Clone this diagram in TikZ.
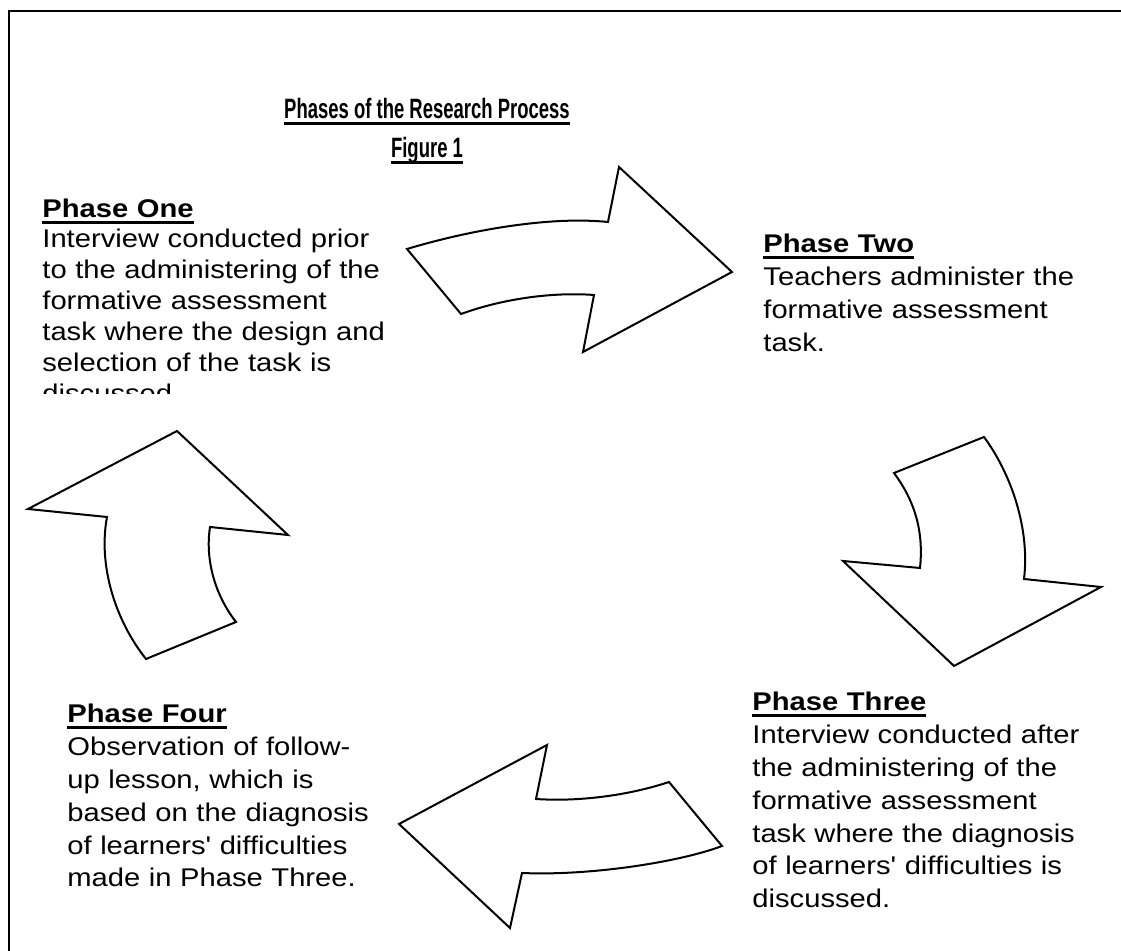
\documentclass[tikz,border=0pt]{standalone}
\usepackage{fontspec}
\setmainfont{Liberation Sans}[FakeStretch=1.14, Ligatures=TeXOff]
\newfontfamily\narrowfont{Liberation Sans}[FakeStretch=0.66, Ligatures=TeXOff]
\usepackage{tikz}
\usetikzlibrary{positioning}
\newsavebox{\headbox}
\newcommand{\ul}[1]{\sbox{\headbox}{#1}\rlap{\rule[-3pt]{\wd\headbox}{1.7pt}}\usebox{\headbox}}
\newcommand{\phasename}[1]{\ul{\textbf{#1}}}
\tikzstyle{phasetext} = [anchor=base west, inner sep=0pt, text width=200pt, align=left, font=\fontsize{12.8}{16.4}\selectfont]
\tikzstyle{heading} = [anchor=base, inner sep=0pt, font=\narrowfont\bfseries\fontsize{14}{16}\selectfont]
\tikzstyle{bigarrow} = [draw=black, line width=1pt, fill=white, line join=miter]

\begin{document}
\begin{tikzpicture}[x=0.5pt, y=-0.5pt]
	\clip (0,0) rectangle (1121,951);
	\fill[white] (0,0) rectangle (1121,951);
	\draw[line width=1.4pt] (9,11) rectangle (1200,1000);

	\node[heading] (title) at (427,119) {\ul{Phases of the Research Process}};
	\node[heading] (figno) at (427,158) {\ul{Figure 1}};

	% the four phases
	\begin{scope}
		\clip (0,0) rectangle (420,394);
		\node[phasetext, font=\fontsize{12.8}{15.5}\selectfont] (one) at (42,218) {\phasename{Phase One}\\[-0.5pt]
			Interview conducted prior\\
			to the administering of the\\
			formative assessment\\
			task where the design and\\
			selection of the task is\\
			discussed.};
	\end{scope}
	\node[phasetext] (two) at (763,253) {\phasename{Phase Two}\\
		Teachers administer the\\
		formative assessment\\
		task.};
	\node[phasetext] (three) at (752,711) {\phasename{Phase Three}\\
		Interview conducted after\\
		the administering of the\\
		formative assessment\\
		task where the diagnosis\\
		of learners' difficulties is\\
		discussed.};
	\node[phasetext] (four) at (67,723) {\phasename{Phase Four}\\
		Observation of follow-\\
		up lesson, which is\\
		based on the diagnosis\\
		of learners' difficulties\\
		made in Phase Three.};

	% curved block arrows, clockwise
	\draw[bigarrow] (407,249) .. controls (470,230) and (550,216) .. (608,222)
		-- (619,167) -- (732,272) -- (583,352) -- (594,295)
		.. controls (555,292) and (505,298) .. (461,314) -- cycle;
	\draw[bigarrow] (894,473) -- (984,437)
		.. controls (1012,475) and (1030,530) .. (1024,579)
		-- (1101,587) -- (954,666) -- (843,561) -- (920,568)
		.. controls (924,530) and (914,500) .. cycle;
	\draw[bigarrow] (399,824) -- (547,745) -- (536,799)
		.. controls (580,802) and (630,795) .. (669,782) -- (722,846)
		.. controls (680,862) and (590,876) .. (522,873) -- (510,928) -- cycle;
	\draw[bigarrow] (146,659) -- (236,622)
		.. controls (215,595) and (205,560) .. (210,527)
		-- (288,535) -- (177,431) -- (28,509) -- (107,517)
		.. controls (98,565) and (115,620) .. cycle;
\end{tikzpicture}
\end{document}
